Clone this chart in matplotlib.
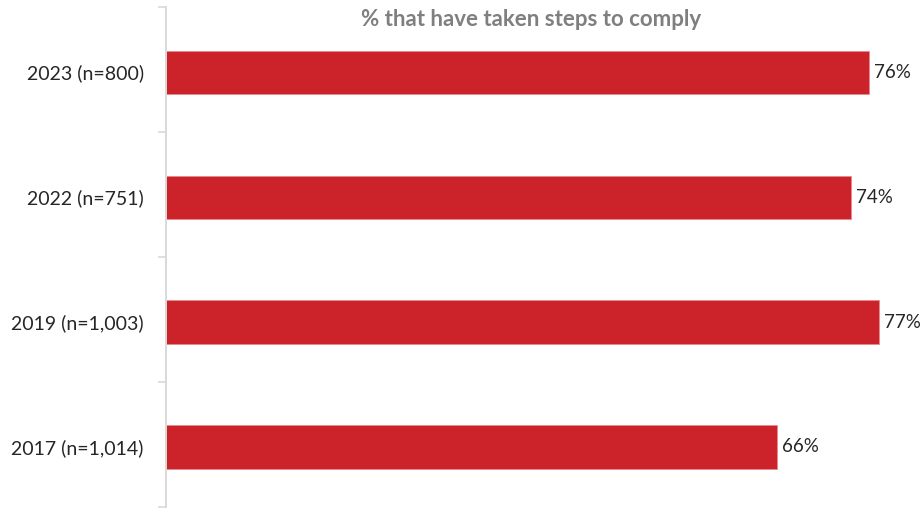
import matplotlib.pyplot as plt
import numpy as np

# survey waves and share of respondents that have taken steps to comply
waves = ['2023 (n=800)', '2022 (n=751)', '2019 (n=1,003)', '2017 (n=1,014)']
pct = [76, 74, 77, 66]

plt.rcParams['font.family'] = ['Lato', 'DejaVu Sans']

fig = plt.figure(figsize=(9.22, 5.08), dpi=100)
ax = fig.add_axes([0.18, 0.002, 0.803, 0.984])

y = np.arange(len(waves)) + 0.02
ax.barh(y, pct, height=0.345, color='#CC2229', edgecolor='#E58A8E', linewidth=0.6)

for yi, v in zip(y, pct):
    ax.text(v + 0.55, yi, f'{v}%', va='center', ha='left', fontsize=13.5, color='#262626')

ax.set_xlim(0, 80)
ax.set_ylim(len(waves) - 0.5, -0.5)
ax.set_yticks(y)
ax.set_yticklabels(waves, fontsize=14, color='#262626')
ax.tick_params(axis='y', which='major', length=0, pad=16)
ax.set_yticks(np.arange(-0.5, len(waves)), minor=True)
ax.tick_params(axis='y', which='minor', length=6, width=1.2, color='#D9D9D9')
ax.set_xticks([])

for s in ['top', 'right', 'bottom']:
    ax.spines[s].set_visible(False)
ax.spines['left'].set_color('#D9D9D9')
ax.spines['left'].set_linewidth(1.4)

fig.text(531 / 922, 1 - 19 / 508, '% that have taken steps to comply', ha='center', va='center',
         fontsize=16, fontweight='bold', color='#7F7F7F')

fig.savefig('out.png', dpi=100)
